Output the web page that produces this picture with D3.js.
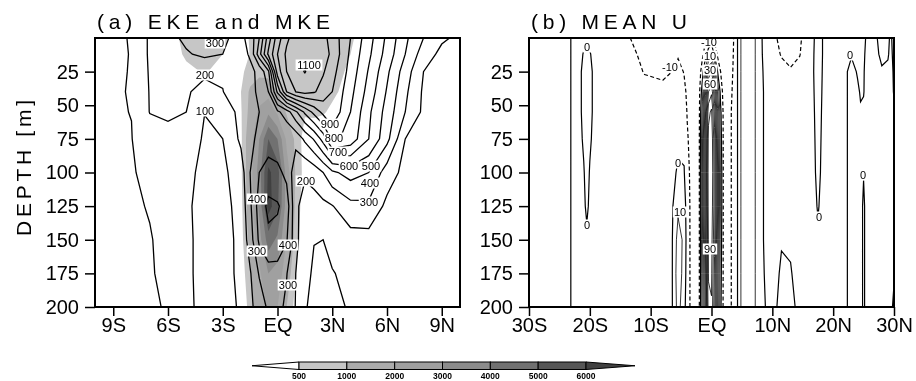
<!DOCTYPE html>
<html>
<head>
<meta charset="utf-8">
<script src="https://cdn.jsdelivr.net/npm/d3@7"></script>
<style>
  body { margin: 0; background: #fff; }
</style>
</head>
<body>
<svg id="chart" width="916" height="381"></svg>
<script>
// depth levels of the grid rows (m)
const depths = [0, 12, 25, 40, 55, 75, 100, 125, 150, 175, 200]

// panel (a): longitudes of the grid columns
const lonsA = [-10, -9, -8, -7, -6, -5, -4, -3, -2, -1.5, -1, -0.5, 0, 0.5, 1, 1.5, 2, 2.5, 3, 4, 5, 6, 7, 8, 9, 10]

// EKE (contours), one row per depth
const ekeRows = [
  [70, 85, 105, 215, 270, 320, 350, 310, 280, 330, 500, 750, 950, 1080, 1150, 1170, 1160, 1130, 1060, 900, 740, 580, 420, 300, 215, 180],
  [70, 85, 103, 215, 255, 290, 320, 300, 270, 310, 560, 820, 1000, 1120, 1170, 1180, 1170, 1140, 1080, 880, 720, 560, 400, 250, 175, 150],
  [75, 90, 103, 210, 235, 245, 220, 210, 250, 280, 320, 480, 950, 1100, 1160, 1205, 1150, 1110, 1040, 860, 690, 520, 350, 200, 160, 140],
  [78, 92, 104, 205, 232, 212, 165, 198, 250, 285, 310, 400, 720, 1000, 1100, 1130, 1110, 1060, 1000, 830, 660, 490, 320, 185, 150, 135],
  [80, 95, 101, 203, 208, 200, 102, 140, 230, 280, 300, 330, 380, 450, 580, 720, 830, 930, 975, 800, 620, 460, 300, 180, 145, 130],
  [80, 95, 98, 150, 185, 170, 85, 100, 220, 280, 320, 340, 330, 310, 330, 420, 510, 640, 830, 760, 600, 430, 200, 165, 140, 128],
  [80, 92, 95, 115, 140, 115, 85, 80, 150, 300, 400, 450, 430, 370, 240, 210, 240, 300, 380, 440, 400, 250, 170, 155, 140, 128],
  [72, 82, 95, 102, 112, 110, 78, 72, 130, 280, 450, 520, 510, 460, 215, 170, 160, 175, 195, 270, 280, 175, 160, 150, 140, 130],
  [70, 80, 92, 98, 110, 112, 80, 70, 120, 250, 420, 480, 470, 410, 230, 130, 102, 100, 130, 160, 160, 155, 155, 150, 140, 130],
  [70, 80, 90, 97, 108, 112, 80, 68, 120, 190, 310, 360, 360, 305, 200, 120, 90, 82, 95, 125, 135, 140, 145, 145, 135, 125],
  [70, 80, 90, 95, 103, 115, 80, 70, 110, 180, 240, 320, 330, 280, 195, 110, 70, 60, 75, 110, 120, 130, 140, 140, 130, 120]
]

// MKE (shading), one row per depth
const mkeRows = [
  [0, 0, 0, 0, 200, 700, 800, 600, 250, 550, 600, 600, 600, 650, 700, 800, 850, 850, 800, 550, 300, 100, 0, 0, 0, 0],
  [0, 0, 0, 0, 150, 600, 750, 500, 250, 520, 550, 550, 550, 600, 750, 800, 800, 800, 750, 500, 250, 50, 0, 0, 0, 0],
  [0, 0, 0, 0, 50, 350, 550, 300, 400, 700, 800, 700, 550, 600, 700, 800, 800, 800, 700, 400, 150, 0, 0, 0, 0, 0],
  [0, 0, 0, 0, 0, 100, 200, 150, 500, 1100, 1500, 1600, 1000, 600, 650, 750, 750, 750, 600, 300, 50, 0, 0, 0, 0, 0],
  [0, 0, 0, 0, 0, 0, 50, 100, 450, 1200, 2200, 2800, 1800, 900, 550, 550, 600, 550, 400, 150, 0, 0, 0, 0, 0, 0],
  [0, 0, 0, 0, 0, 0, 0, 100, 400, 1500, 3000, 5000, 4000, 1800, 800, 300, 150, 100, 50, 0, 0, 0, 0, 0, 0, 0],
  [0, 0, 0, 0, 0, 0, 0, 100, 400, 1500, 3500, 6200, 5500, 2500, 900, 300, 100, 0, 0, 0, 0, 0, 0, 0, 0, 0],
  [0, 0, 0, 0, 0, 0, 0, 100, 350, 1400, 3200, 6500, 5200, 2500, 800, 200, 50, 0, 0, 0, 0, 0, 0, 0, 0, 0],
  [0, 0, 0, 0, 0, 0, 0, 50, 300, 1200, 2600, 4500, 3800, 2000, 700, 100, 0, 0, 0, 0, 0, 0, 0, 0, 0, 0],
  [0, 0, 0, 0, 0, 0, 0, 0, 200, 900, 1800, 3000, 2600, 1400, 500, 50, 0, 0, 0, 0, 0, 0, 0, 0, 0, 0],
  [0, 0, 0, 0, 0, 0, 0, 0, 100, 700, 1400, 2200, 2000, 1000, 300, 0, 0, 0, 0, 0, 0, 0, 0, 0, 0, 0]
]

// panel (b): longitudes of the grid columns
const lonsB = [-30, -26, -23.5, -22, -21, -20.5, -20, -19, -16, -13.5, -11, -8, -6.5, -5.5, -4.5, -4,
  -3.5, -3, -2.5, -2, -1.5, -1, -0.5, 0, 0.5, 1, 1.5, 2, 2.5, 3, 3.5, 4,
  5, 6, 7, 8, 10, 11.5, 13, 14.5, 16, 17.5, 19, 21, 22, 23, 24, 24.5,
  25, 25.5, 26.5, 28, 29, 29.5, 30]

// mean U, one depth profile per longitude
const uCols = [
  [3, 3, 3, 3, 3, 3, 3, 3, 3, 3, 3],
  [3, 3, 3, 3, 3, 3, 3, 3, 3, 3, 3],
  [1, 1, 1, 1, 1, 1, 1, 1, 1, 1, 1],
  [-3, -3, -3, -3, -3, -3, -3, -3, -3, -3, -3],
  [-2, 0.5, 2, 2, 2, 1, -0.5, -1.5, -3, -3, -3],
  [-1, 2, 3, 3, 3, 3, 2.5, 1.5, -1.5, -3, -3],
  [-2, 0.5, 2, 2, 2, 1, -0.5, -1.5, -3, -3, -3],
  [-3, -3, -3, -3, -3, -3, -3, -3, -3, -3, -3],
  [-6, -5, -4, -4, -4, -4, -4, -4, -4, -4, -4],
  [-9.8, -8, -6, -4, -4, -4, -4, -4, -4, -4, -4],
  [-13, -12, -10.5, -7, -4, -4, -4, -4, -4, -4, -4],
  [-14, -13, -11.5, -8, -5, -4, -4, -4, -4, -4, -4],
  [-14, -13, -10, -6, -4, -3, -2, -1.5, -1, -1, -1],
  [-15, -11, -7, -5, -3, -1.5, 1, 8, 14, 16, 14],
  [-16, -14, -10.5, -8, -5, -2, 0.5, 6, 8, 6, 3],
  [-17, -15, -13, -11.5, -10.5, -9, -7, -6, -5, -5, -5],
  [-18, -17, -15, -14, -13, -12, -11, -10.5, -10.5, -10.5, -10.5],
  [-18, -18, -17, -16, -15, -15, -15, -15, -15, -15, -15],
  [-18, -18, -17, -16, -15, -14, -14, -13, -13, -13, -13],
  [-17, -16, -14, -12, -11, -10, -10, -10, -10, -10, -10],
  [-15, -12, -5, 6, 14, 18, 20, 20, 18, 16, 14],
  [-12, -5, 15, 38, 48, 54, 55, 54, 50, 46, 42],
  [-10.5, 6, 40, 70, 87, 93, 95, 94, 92, 91, 87],
  [-8, 12, 50, 78, 92, 98, 100, 97, 94, 92, 89],
  [-12, -2, 25, 52, 66, 73, 75, 75, 72, 68, 64],
  [-15, -12, 0, 20, 32, 38, 40, 40, 38, 34, 31],
  [-15, -14, -10, -4, 2, 5, 8, 8, 6, 4, 2],
  [-16, -16, -15, -14, -13, -13, -13, -13, -13, -13, -13],
  [-16, -16, -15, -15, -14, -12, -12, -12, -12, -12, -12],
  [-15, -15, -14, -13, -12, -12, -12, -12, -12, -12, -12],
  [-12, -11, -10, -9, -8, -8, -8, -8, -8, -8, -8],
  [-5, -5, -5, -5, -5, -5, -5, -5, -5, -5, -5],
  [13, 13, 13, 13, 13, 13, 13, 13, 13, 13, 13],
  [15, 15, 15, 15, 15, 15, 15, 15, 15, 15, 15],
  [12, 12, 12, 12, 12, 12, 12, 12, 12, 12, 12],
  [1.5, 1.5, 1.5, 1.5, 1.5, 1.5, 1.5, 1.5, 1.5, 1.5, 1.5],
  [-8, -7, -5, -4, -4, -4, -4, -4, -4, -3, -2],
  [-12, -10.5, -8, -5, -4, -4, -4, -3, -0.5, 1, 2],
  [-13, -11.5, -9.5, -6, -4, -4, -4, -3, -1, 0.5, 2],
  [-11, -10.3, -8, -5, -4, -4, -4, -4, -3.5, -3, -2],
  [-6, -5, -4, -4, -4, -4, -4, -4, -4, -4, -4],
  [4, 4, 3.5, 3, 2.5, 2, 1.5, 0.5, -1, -2, -3],
  [-4, -4, -4, -4, -4, -4, -4, -4, -4, -4, -4],
  [-3, -3, -3, -3, -3, -3, -3, -3, -3, -3, -3],
  [-1, -1, -1, -1, -1, -1, -1, -1, -1, -1, -1],
  [-2, -0.5, 2, 2, 2, 2, 2, 2, 2, 2, 2],
  [-2, -1.5, -0.5, 1, 2, 2, 2, 2, 2, 2, 2],
  [-3, -2, -1.5, -0.5, 0.5, 2, 2, 2, 2, 2, 2],
  [-2, -1, -0.5, -0.3, 1, 1.5, 0.3, -1, -1, -1, -1],
  [1, 1.5, 2, 2, 2, 2, 2, 2, 2, 2, 2],
  [2, 2, 2, 2, 2, 2, 2, 2, 2, 2, 2],
  [-2, -1, 0.5, 2, 2, 2, 2, 2, 2, 2, 2],
  [-1, -0.5, 1, 2, 2, 2, 2, 2, 2, 2, 2],
  [1, 1.5, 2, 2, 2, 2, 2, 2, 2, 1, 1],
  [-3, -2, -1, -0.5, 1, 2, 2, 2, 2, 0.5, -1]
]

const ekeLevels = d3.range(100, 1300, 100)
const uLevels = d3.range(-10, 110, 10)
const shadeLevels = [500, 1000, 2000, 3000, 4000, 5000, 6000]
const shadeColors = ['#c6c6c6', '#ababab', '#a0a0a0', '#8c8c8c', '#717171', '#565656', '#404040']

const ticksA = [-9, -6, -3, 0, 3, 6, 9]
const ticksB = [-30, -20, -10, 0, 10, 20, 30]
const depthTicks = [25, 50, 75, 100, 125, 150, 175, 200]

// contour labels: text, lon, depth
const labelsA = [
  ['300', -3.4, 4], ['200', -4.0, 27.5], ['100', -4.0, 54], ['1100', 1.73, 20],
  ['900', 2.9, 64], ['800', 3.1, 74.5], ['700', 3.3, 85], ['600', 3.9, 95.5], ['500', 5.1, 95.5],
  ['400', 5.05, 108], ['300', 5.0, 122], ['200', 1.55, 106],
  ['400', -1.1, 120], ['300', -1.1, 158], ['400', 0.57, 154], ['300', 0.57, 184]
]
const labelsB = [
  ['0', -20.5, 7], ['0', -20.5, 139], ['-10', -6.8, 21.5], ['-10', -0.4, 3],
  ['10', -0.25, 13.5], ['30', -0.25, 24], ['60', -0.25, 34.5], ['0', -5.5, 93],
  ['10', -5.2, 129], ['90', -0.25, 157], ['0', 17.6, 133], ['0', 22.8, 12.6], ['0', 24.9, 102]
]

const FONT = '"Liberation Sans", Arial, sans-serif'
const svg = d3.select('#chart').attr('font-family', FONT)

// grey-only filter so small text has no coloured fringes
svg.append('filter').attr('id', 'grey')
  .append('feColorMatrix').attr('type', 'saturate').attr('values', 0)

const yS = d3.scaleLinear().domain([0, 200]).range([38, 307])
const xA = d3.scaleLinear().domain([-10, 10]).range([95, 460])
const xB = d3.scaleLinear().domain([-30, 30]).range([529, 894])

const lonLabel = (v) => (v === 0 ? 'EQ' : v < 0 ? `${-v}S` : `${v}N`)

// grid index space -> lon/depth -> pixels
function gridPath(lons, x) {
  const ix = d3.scaleLinear().domain(d3.range(lons.length)).range(lons).clamp(true)
  const iy = d3.scaleLinear().domain(d3.range(depths.length)).range(depths).clamp(true)
  return d3.geoPath(d3.geoTransform({
    point(px, py) { this.stream.point(x(ix(px - 0.5)), yS(iy(py - 0.5))) }
  }))
}

function panel(id, x) {
  const [x0, x1] = x.range()
  svg.append('clipPath').attr('id', id)
    .append('rect').attr('x', x0).attr('y', 38).attr('width', x1 - x0).attr('height', 269)
  return svg.append('g').attr('clip-path', `url(#${id})`)
}

function drawLabels(labels, x) {
  const g = svg.append('g').attr('filter', 'url(#grey)')
    .selectAll('g').data(labels).join('g')
    .attr('transform', (d) => `translate(${Math.round(x(d[1]))},${Math.round(yS(d[2]))})`)
  g.append('rect')
    .attr('x', (d) => -(d[0].length * 6.2 + 2) / 2).attr('y', -5.5)
    .attr('width', (d) => d[0].length * 6.2 + 2).attr('height', 11)
    .attr('fill', '#fff')
  g.append('text').attr('text-anchor', 'middle').attr('dy', '0.36em')
    .attr('font-size', 11).attr('fill', '#000').text((d) => d[0])
}

function drawAxes(x, ticks, title, titleLen) {
  const [x0, x1] = x.range()
  const bx = svg.append('g').attr('transform', 'translate(0,307)')
    .call(d3.axisBottom(x).tickValues(ticks).tickFormat(lonLabel).tickSize(9).tickPadding(2))
  const ly = svg.append('g').attr('transform', `translate(${x0},0)`)
    .call(d3.axisLeft(yS).tickValues(depthTicks).tickSize(10).tickPadding(6))
  for (const a of [bx, ly]) {
    a.select('.domain').remove()
    a.attr('font-size', 20).attr('font-family', FONT).attr('filter', 'url(#grey)')
    a.selectAll('line').attr('stroke-width', 1.5)
  }
  svg.append('rect').attr('x', x0).attr('y', 38).attr('width', x1 - x0).attr('height', 269)
    .attr('fill', 'none').attr('stroke', '#000').attr('stroke-width', 2)
  svg.append('text').attr('x', x0 + 2).attr('y', 29).attr('font-size', 21)
    .attr('filter', 'url(#grey)')
    .attr('textLength', titleLen).attr('lengthAdjust', 'spacing').text(title)
}

// ---- panel (a)
const pathA = gridPath(lonsA, xA)
const gA = panel('clipA', xA)
const shade = d3.contours().size([lonsA.length, depths.length]).thresholds(shadeLevels)(mkeRows.flat())
gA.append('g').selectAll('path').data(shade).join('path')
  .attr('d', pathA).attr('fill', (d, i) => shadeColors[i])
const ekeLines = d3.contours().size([lonsA.length, depths.length]).thresholds(ekeLevels)(ekeRows.flat())
gA.append('g').selectAll('path').data(ekeLines).join('path')
  .attr('d', pathA).attr('fill', 'none').attr('stroke', '#000').attr('stroke-width', 1.3)
drawLabels(labelsA, xA)
drawAxes(xA, ticksA, '(a) EKE and MKE', 233)

// ---- panel (b)
const pathB = gridPath(lonsB, xB)
const gB = panel('clipB', xB)
const uVals = depths.flatMap((_, r) => uCols.map((c) => c[r]))
const uLines = d3.contours().size([lonsB.length, depths.length]).thresholds(uLevels)(uVals)
gB.append('g').selectAll('path').data(uLines).join('path')
  .attr('d', pathB).attr('fill', 'none').attr('stroke', '#000')
  .attr('stroke-width', (d) => (d.value > 0 ? 0.8 : 1.2))
  .attr('stroke-dasharray', (d) => (d.value < 0 ? '4,2.5' : null))
drawLabels(labelsB, xB)
drawAxes(xB, ticksB, '(b) MEAN U', 156)

svg.append('text').attr('transform', 'translate(31,168) rotate(-90)')
  .attr('text-anchor', 'middle').attr('font-size', 21).attr('filter', 'url(#grey)')
  .attr('textLength', 136).attr('lengthAdjust', 'spacing').text('DEPTH [m]')

// ---- colour bar
const cb = d3.scaleLinear().domain([0, shadeLevels.length - 1]).range([299, 586])
const cbg = svg.append('g').attr('stroke', '#000').attr('stroke-width', 1)
const cy0 = 362, cy1 = 369.5, cym = (cy0 + cy1) / 2
cbg.append('path').attr('d', `M${cb(0)},${cy0}L252,${cym}L${cb(0)},${cy1}Z`).attr('fill', '#fff')
cbg.selectAll('rect').data(shadeLevels.slice(0, -1)).join('rect')
  .attr('x', (d, i) => cb(i)).attr('y', cy0)
  .attr('width', (d, i) => cb(i + 1) - cb(i)).attr('height', cy1 - cy0)
  .attr('fill', (d, i) => shadeColors[i])
cbg.append('path').attr('d', `M${cb(6)},${cy0}L635,${cym}L${cb(6)},${cy1}Z`)
  .attr('fill', shadeColors[6])
svg.append('g').attr('filter', 'url(#grey)').selectAll('text').data(shadeLevels).join('text')
  .attr('x', (d, i) => cb(i)).attr('y', 378.5).attr('text-anchor', 'middle')
  .attr('font-size', 8.5).attr('font-weight', 'bold').text((d) => d)
</script>
</body>
</html>
